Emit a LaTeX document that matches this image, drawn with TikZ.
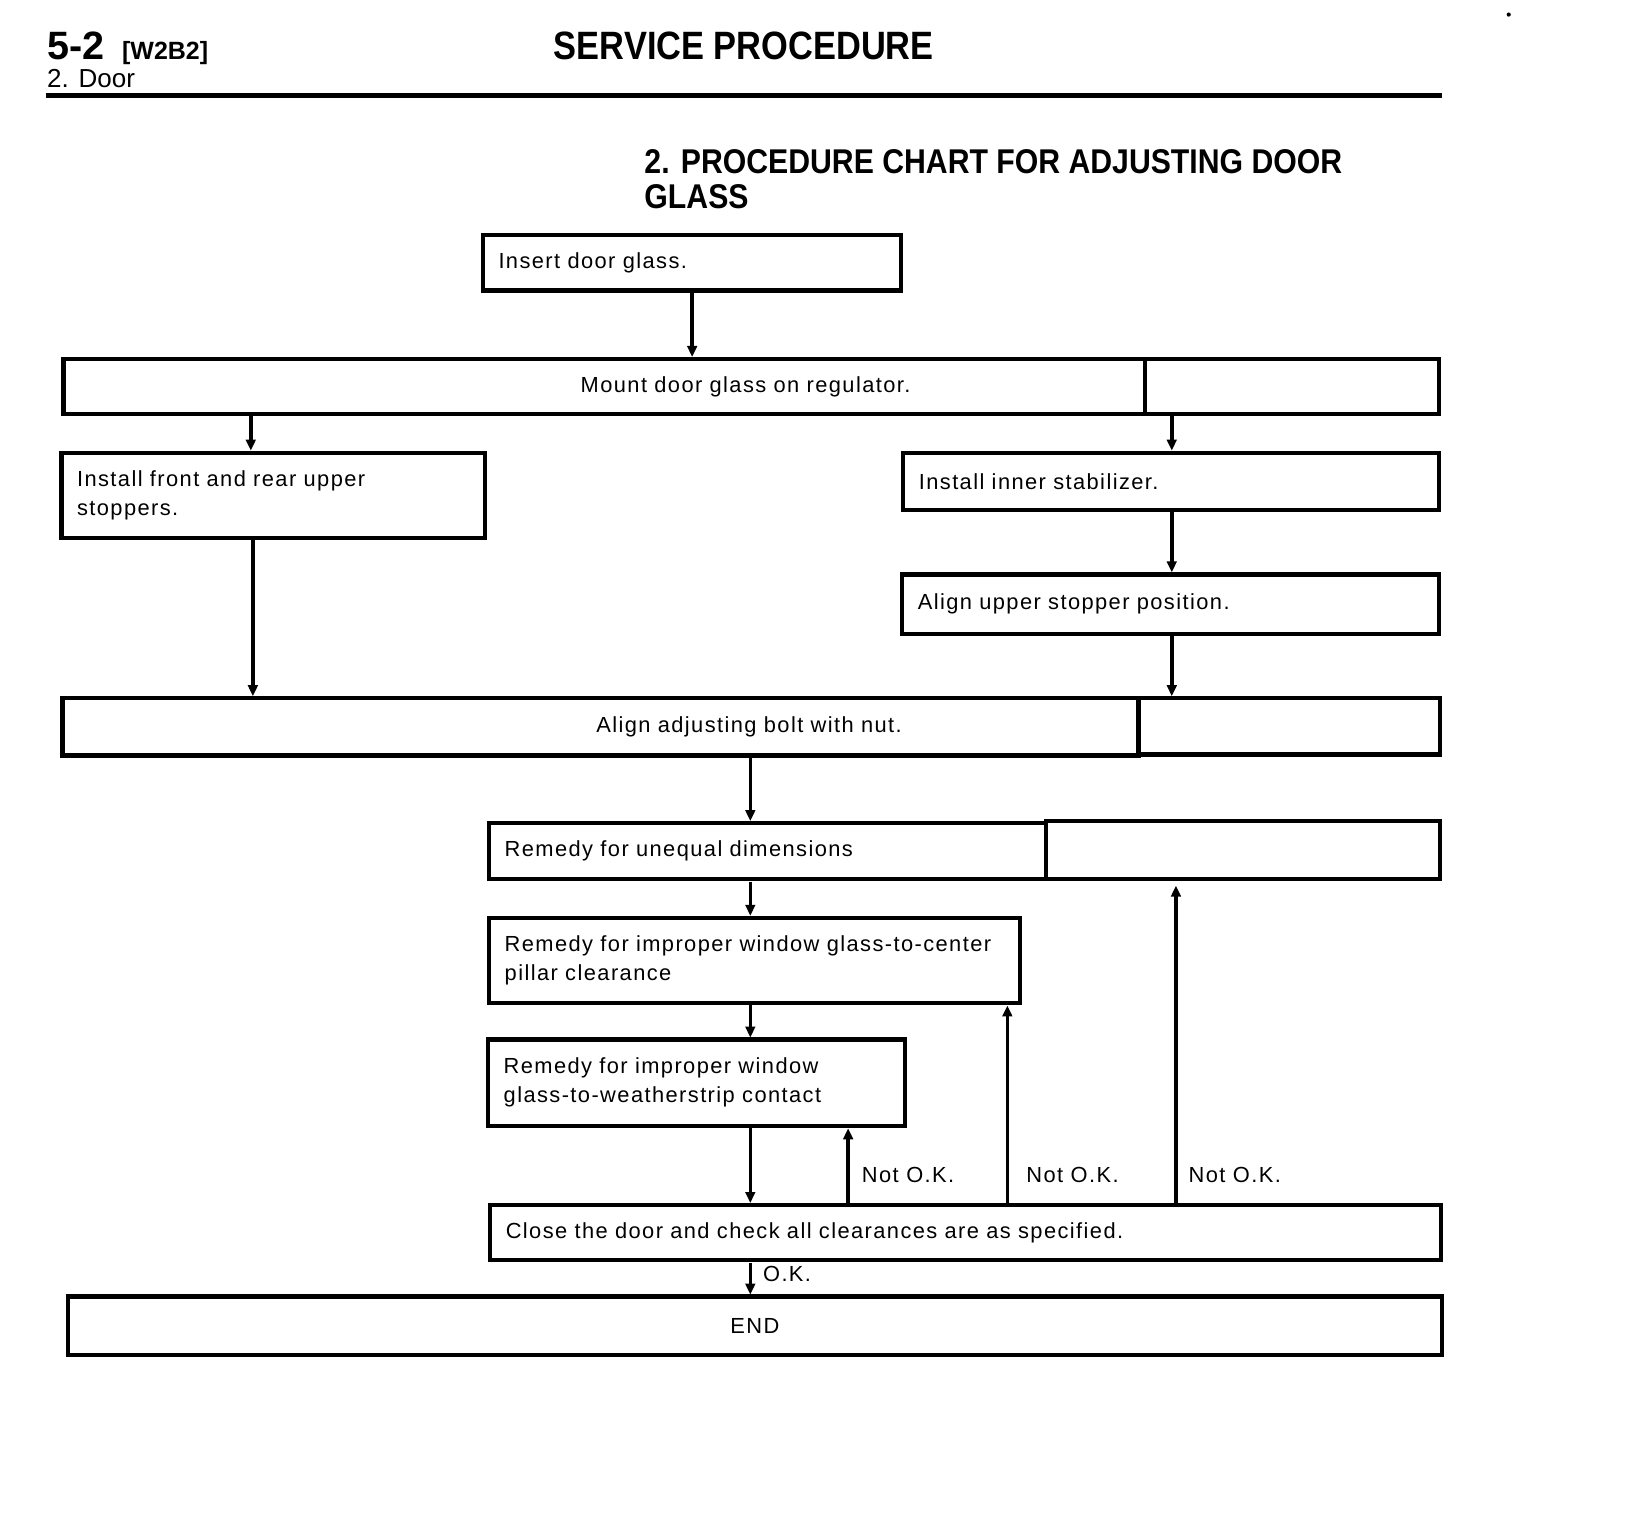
\documentclass[tikz,border=0pt]{standalone}
\usepackage{fontspec}
\setmainfont{Liberation Sans}
\newfontfamily\boxfont{Liberation Sans}[LetterSpace=6.5]
\usetikzlibrary{arrows.meta}
\begin{document}
\begin{tikzpicture}[x=0.5pt,y=-0.5pt,scale=1.0405,
  every node/.append style={transform shape},
  box/.style={draw, line width=2.1pt, anchor=north west, inner xsep=7.5pt, inner ysep=0pt,
    font=\boxfont\fontsize{10.5}{14}\selectfont, align=left},
  cbox/.style={box, align=center},
  sbox/.style={draw, line width=2.1pt, anchor=north west, inner sep=0pt},
  arr/.style={line width=1.8pt, -{Triangle[length=5.5pt,width=4.8pt]}},
  lbl/.style={anchor=base west, inner sep=0pt, font=\boxfont\fontsize{10.5}{14}\selectfont},
  hd/.style={anchor=base west, inner sep=0pt}]
\useasboundingbox (0,0) rectangle (1568.5,1459);
% header
\node[hd, font=\bfseries\fontsize{19}{19}\selectfont] (pg) at (45,57) {5-2};
\node[hd, font=\bfseries\fontsize{12}{12}\selectfont] (code) at (117,57) {[W2B2]};
\node[hd, font=\bfseries\fontsize{19}{19}\selectfont] (sp) at (532,57) {\scalebox{0.87}[1]{SERVICE PROCEDURE}};
\node[hd, font=\fontsize{12.5}{12.5}\selectfont] (sec) at (45,84) {2. Door};
\draw[line width=2.3pt] (44,92) -- (1386,92);
\fill (1450,14) circle (1pt);
\node[hd, font=\bfseries\fontsize{16.5}{16.5}\selectfont] (t1) at (619,167) {\scalebox{0.88}[1]{2. PROCEDURE CHART FOR ADJUSTING DOOR}};
\node[hd, font=\bfseries\fontsize{16.5}{16.5}\selectfont] (t2) at (619,200) {\scalebox{0.88}[1]{GLASS}};
% boxes
\node[box, minimum width=201pt, minimum height=26.5pt, text width=186pt] (b1) at (462,224) {Insert door glass.};
\node[box, minimum width=519.5pt, minimum height=26.5pt, text width=504.5pt] (b2) at (59,343) {\hspace*{241pt}Mount door glass on regulator.};
\node[sbox, minimum width=141.5pt, minimum height=26.5pt] (b2s) at (1098,343) {};
\node[box, minimum width=203.5pt, minimum height=41pt, text width=188.5pt] (b3) at (57,433) {Install front and rear upper\\stoppers.};
\node[box, minimum width=257.5pt, minimum height=27.5pt, text width=242.5pt] (b4) at (866,433) {Install inner stabilizer.};
\node[box, minimum width=258pt, minimum height=28.5pt, text width=243pt] (b5) at (865,550) {Align upper stopper position.};
\node[box, minimum width=517pt, minimum height=27.5pt, text width=502pt] (b6) at (58,669) {\hspace*{249pt}Align adjusting bolt with nut.};
\node[sbox, minimum width=145pt, minimum height=27pt] (b6s) at (1092,669) {};
\node[box, minimum width=267.5pt, minimum height=27pt, text width=252.5pt] (b7) at (468,789) {Remedy for unequal dimensions};
\node[sbox, minimum width=189.5pt, minimum height=28pt] (b7s) at (1003,787) {};
\node[box, minimum width=255pt, minimum height=41pt, text width=240pt] (b8) at (468,880) {Remedy for improper window glass-to-center\\pillar clearance};
\node[box, minimum width=200.5pt, minimum height=41.5pt, text width=185.5pt] (b9) at (467,997) {Remedy for improper window\\glass-to-weatherstrip contact};
\node[box, minimum width=457pt, minimum height=26.5pt, text width=442pt] (b10) at (469,1156) {Close the door and check all clearances are as specified.};
\node[cbox, minimum width=660.5pt, minimum height=28pt, text width=645.5pt] (b11) at (63,1244) {END};
% columns
\coordinate (xa) at (241,0);
\coordinate (xb) at (1126,0);
\coordinate (xc) at (243,0);
\coordinate (xd) at (721,0);
\coordinate (xe) at (815,0);
\coordinate (xf) at (968,0);
\coordinate (xg) at (1130,0);
% connectors
\draw[arr] (b1.south) -- (b1.south |- b2.north);
\draw[arr] (b2.south -| xa) -- (b3.north -| xa);
\draw[arr] (b2s.south -| xb) -- (b4.north -| xb);
\draw[arr] (b4.south -| xb) -- (b5.north -| xb);
\draw[arr] (b3.south -| xc) -- (b6.north -| xc);
\draw[arr] (b5.south -| xb) -- (b6s.north -| xb);
\draw[arr] (b6.south -| xd) -- (b7.north -| xd);
\draw[arr] (b7.south -| xd) -- (b8.north -| xd);
\draw[arr] (b8.south -| xd) -- (b9.north -| xd);
\draw[arr] (b9.south -| xd) -- (b10.north -| xd);
\draw[arr] (b10.north -| xe) -- (b9.south -| xe);
\draw[arr] (b10.north -| xf) -- (b8.south -| xf);
\draw[arr, shorten >=2pt] (b10.north -| xg) -- (b7s.south -| xg);
\draw[arr] (b10.south -| xd) -- (b11.north -| xd);
% labels
\node[lbl] (n1) at (828,1136) {Not O.K.};
\node[lbl] (n2) at (986,1136) {Not O.K.};
\node[lbl] (n3) at (1142,1136) {Not O.K.};
\node[lbl] (ok) at (733,1232) {O.K.};
\end{tikzpicture}
\end{document}
